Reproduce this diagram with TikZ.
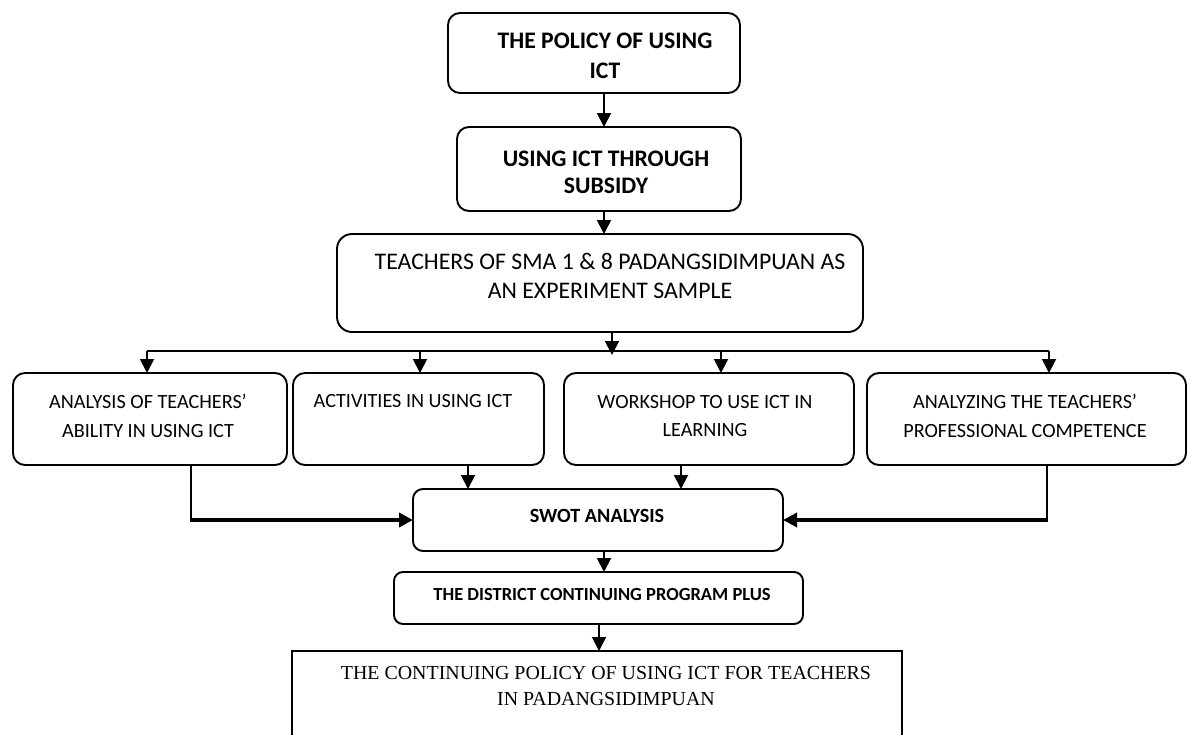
\documentclass[tikz,border=0pt]{standalone}
\usepackage{fontspec}
\setmainfont{Carlito}
\newfontfamily\serifface{Liberation Serif}
\usetikzlibrary{arrows.meta}
\begin{document}
\begin{tikzpicture}[x=1pt,y=-1pt,
  box/.style={draw, line width=1.9pt, rounded corners=12pt, inner sep=0pt, outer sep=0pt},
  sqbox/.style={draw, line width=1.9pt, inner sep=0pt, outer sep=0pt},
  lbl/.style={inner sep=0pt, align=center},
  bigbold/.style={font=\fontsize{23.7}{29}\selectfont\bfseries},
  bigreg/.style={font=\fontsize{23.8}{29}\selectfont},
  midreg/.style={font=\fontsize{20.2}{28.5}\selectfont},
  wire/.style={line width=1.9pt},
  link/.style={line width=1.9pt, -{Triangle[width=14pt,length=14pt]}},
  heavylink/.style={line width=3.8pt, -{Triangle[width=14pt,length=14pt]}}]
\useasboundingbox (0,0) rectangle (1188,734);

% ---- top chain ----
\node[box, minimum width=292pt, minimum height=80pt] (policy) at (594,53) {};
\node[lbl, font=\fontsize{23.7}{30}\selectfont\bfseries] (policyT) at (605,56) {THE POLICY OF USING\\ICT};

\node[box, minimum width=284pt, minimum height=84pt] (subsidy) at (599,169) {};
\node[lbl, font=\fontsize{23.7}{27}\selectfont\bfseries] (subsidyT) at (606,172) {USING ICT THROUGH\\SUBSIDY};

\node[box, rounded corners=15pt, minimum width=526pt, minimum height=98pt] (teachers) at (600,283) {};
\node[lbl, bigreg] (teachersT) at (610,276) {TEACHERS OF SMA 1 \& 8 PADANGSIDIMPUAN AS\\AN EXPERIMENT SAMPLE};

% ---- four activities ----
\node[box, minimum width=274pt, minimum height=92pt] (ana) at (150,419) {};
\node[lbl, midreg] (anaT) at (148,416) {ANALYSIS OF TEACHERS’\\ABILITY IN USING ICT};

\node[box, minimum width=251pt, minimum height=92pt] (act) at (418.5,419) {};
\node[lbl, midreg] (actT) at (413,401) {ACTIVITIES IN USING ICT};

\node[box, minimum width=290pt, minimum height=92pt] (work) at (709,419) {};
\node[lbl, midreg] (workT) at (705,416) {WORKSHOP TO USE ICT IN\\LEARNING};

\node[box, minimum width=319pt, minimum height=92pt] (comp) at (1026.5,419) {};
\node[lbl, midreg] (compT) at (1025,416) {ANALYZING THE TEACHERS’\\PROFESSIONAL COMPETENCE};

% ---- analysis and outcome ----
\node[box, rounded corners=10pt, minimum width=370pt, minimum height=62pt] (swot) at (598,520) {};
\node[lbl, font=\fontsize{20.2}{24}\selectfont\bfseries] (swotT) at (597,516) {SWOT ANALYSIS};

\node[box, rounded corners=9pt, minimum width=409pt, minimum height=52pt] (plus) at (598.5,598) {};
\node[lbl, font=\fontsize{18.5}{22}\selectfont\bfseries] (plusT) at (602,594) {THE DISTRICT CONTINUING PROGRAM PLUS};

\node[sqbox, minimum width=610pt, minimum height=110pt] (final) at (597,706) {};
\node[lbl, font=\fontsize{19.9}{26.5}\selectfont\serifface] (finalT) at (606,686) {THE CONTINUING POLICY OF USING ICT FOR TEACHERS\\IN PADANGSIDIMPUAN};

% ---- connector anchors ----
\coordinate (xtop) at (604,0);
\coordinate (xplus) at (604,0);
\coordinate (xfinal) at (599,0);
\coordinate (hubtip) at (612,355);
\coordinate (busL) at (147,351);
\coordinate (busB) at (420,351);
\coordinate (busC) at (721,351);
\coordinate (busR) at (1049,351);
\coordinate (xB) at (468,0);
\coordinate (xC) at (681,0);
\coordinate (xA) at (191,0);
\coordinate (xD) at (1047,0);

% ---- connectors ----
\draw[link] (policy.south -| xtop) -- (subsidy.north -| xtop);
\draw[link] (subsidy.south -| xtop) -- (teachers.north -| xtop);
\draw[link] (teachers.south -| hubtip) -- (hubtip);
\draw[wire] (busL) -- (busR);
\draw[link] (busL) -- (busL |- ana.north);
\draw[link] (busB) -- (busB |- act.north);
\draw[link] (busC) -- (busC |- work.north);
\draw[link] (busR) -- (busR |- comp.north);

\draw[link] (act.south -| xB) -- (swot.north -| xB);
\draw[link] (work.south -| xC) -- (swot.north -| xC);
\draw[wire] (ana.south -| xA) -- ([yshift=-1.9pt]xA |- swot.west);
\draw[heavylink] (xA |- swot.west) -- (swot.west);
\draw[wire] (comp.south -| xD) -- ([yshift=-1.9pt]xD |- swot.east);
\draw[heavylink] (xD |- swot.east) -- (swot.east);

\draw[link] (swot.south -| xplus) -- (plus.north -| xplus);
\draw[link] (plus.south -| xfinal) -- (final.north -| xfinal);
\end{tikzpicture}
\end{document}
